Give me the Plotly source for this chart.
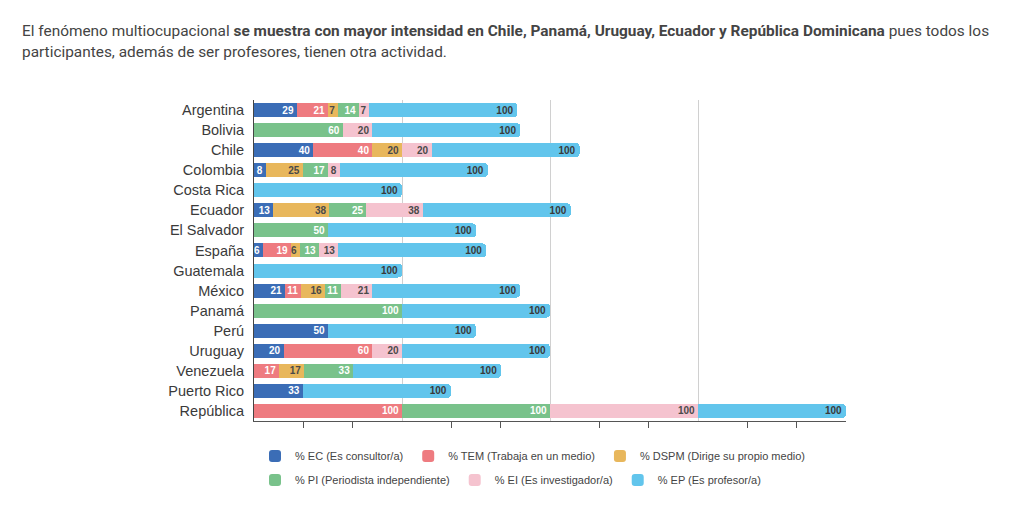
import plotly.graph_objects as go

countries = ["Argentina", "Bolivia", "Chile", "Colombia", "Costa Rica", "Ecuador",
             "El Salvador", "España", "Guatemala", "México", "Panamá", "Perú",
             "Uruguay", "Venezuela", "Puerto Rico", "República"]

ec   = [29, 0, 40, 8, 0, 13, 0, 6, 0, 21, 0, 50, 20, 0, 33, 0]
tem  = [21, 0, 40, 0, 0, 0, 0, 19, 0, 11, 0, 0, 60, 17, 0, 100]
dspm = [7, 0, 20, 25, 0, 38, 0, 6, 0, 16, 0, 0, 0, 17, 0, 0]
pi   = [14, 60, 0, 17, 0, 25, 50, 13, 0, 11, 100, 0, 0, 33, 0, 100]
ei   = [7, 20, 20, 8, 0, 38, 0, 13, 0, 21, 0, 0, 20, 0, 0, 100]
ep   = [100, 100, 100, 100, 100, 100, 100, 100, 100, 100, 100, 100, 100, 100, 100, 100]

series_names = ["% EC (Es consultor/a)", "% TEM (Trabaja en un medio)", "% DSPM (Dirige su propio medio)",
                "% PI (Periodista independiente)", "% EI (Es investigador/a)", "% EP (Es profesor/a)"]
series_vals = [ec, tem, dspm, pi, ei, ep]
colors = ["#3b6db6", "#ee7b80", "#e8b75c", "#79c28b", "#f5c3cf", "#62c5ec"]
text_colors = ["#ffffff", "#ffffff", "#4a4a4a", "#ffffff", "#4a4a4a", "#3a3a3a"]
legend_ids = ["legend", "legend", "legend", "legend2", "legend2", "legend2"]

fig = go.Figure()
for name, vals, col, tcol, lg in zip(series_names, series_vals, colors, text_colors, legend_ids):
    fig.add_trace(go.Bar(
        y=countries,
        x=[v if v else None for v in vals],
        orientation="h",
        name=name,
        marker=dict(color=col, line=dict(width=0)),
        text=[str(v) if v else "" for v in vals],
        textposition="inside",
        insidetextanchor="end",
        constraintext="none",
        textfont=dict(family="Liberation Sans", size=10, color=tcol, weight="bold"),
        legend=lg,
        hoverinfo="skip",
    ))

# page has an 8px body margin; work in body coordinates (page - 8)
OFF = 8
W, H = 1024 - 2 * OFF, 514 - 2 * OFF
left_px, right_px, top_px, bottom_px = 254 - OFF, 846 - OFF, 100 - OFF, 421 - OFF
ml, mr, mt, mb = left_px, W - right_px, top_px, H - bottom_px
ph = H - mt - mb
pw = W - ml - mr

def py(page_y):
    return (bottom_px - (page_y - OFF)) / ph

def px_x(page_x):
    return ((page_x - OFF) - left_px) / pw

third_ticks = [v * 100 / 3 for v in range(1, 12) if v % 3 != 0]

legend_font = dict(family="Liberation Sans", size=11, color="#444")

fig.update_layout(
    width=W, height=H,
    margin=dict(l=ml, r=mr, t=mt, b=mb, pad=0),
    paper_bgcolor="white", plot_bgcolor="white",
    barmode="stack",
    bargap=0.3,
    barcornerradius=4,
    uniformtext=dict(minsize=10, mode="show"),
    font=dict(family="Liberation Sans", color="#444"),
    xaxis=dict(
        range=[0, 400], showgrid=False, zeroline=False,
        tickvals=third_ticks, ticks="outside", ticklen=6, tickcolor="#555", tickwidth=1,
        showticklabels=False,
        showline=True, linecolor="#555", linewidth=1,
        minor=dict(tickvals=[100, 200, 300, 400], showgrid=True, gridcolor="#d0d0d0", gridwidth=1, ticks=""),
    ),
    yaxis=dict(
        autorange="reversed", showgrid=False, zeroline=False,
        showline=True, linecolor="#444", linewidth=1,
        ticks="", tickfont=dict(family="Liberation Sans", size=14.5, color="#3a3a3a"),
        ticklabelstandoff=6,
    ),
    legend=dict(
        orientation="h", traceorder="normal", x=px_x(255), xanchor="left", y=py(456), yanchor="middle",
        font=legend_font, itemwidth=30, bgcolor="rgba(0,0,0,0)",
    ),
    legend2=dict(
        orientation="h", traceorder="normal", x=px_x(255), xanchor="left", y=py(480), yanchor="middle",
        font=legend_font, itemwidth=30, bgcolor="rgba(0,0,0,0)",
    ),
    annotations=[
        dict(
            xref="paper", yref="paper", x=px_x(20), y=py(31), xanchor="left", yanchor="middle",
            align="left", showarrow=False,
            text=("El fenómeno multiocupacional <b>se muestra con mayor intensidad en Chile, Panamá, Uruguay, "
                  "Ecuador y República Dominicana</b> pues todos los"),
            font=dict(family="Roboto", size=15.4, color="#444"),
        ),
        dict(
            xref="paper", yref="paper", x=px_x(20), y=py(52), xanchor="left", yanchor="middle",
            align="left", showarrow=False,
            text="participantes, además de ser profesores, tienen otra actividad.",
            font=dict(family="Roboto", size=15.4, color="#444"),
        ),
    ],
)

fig.write_html("out.html")
